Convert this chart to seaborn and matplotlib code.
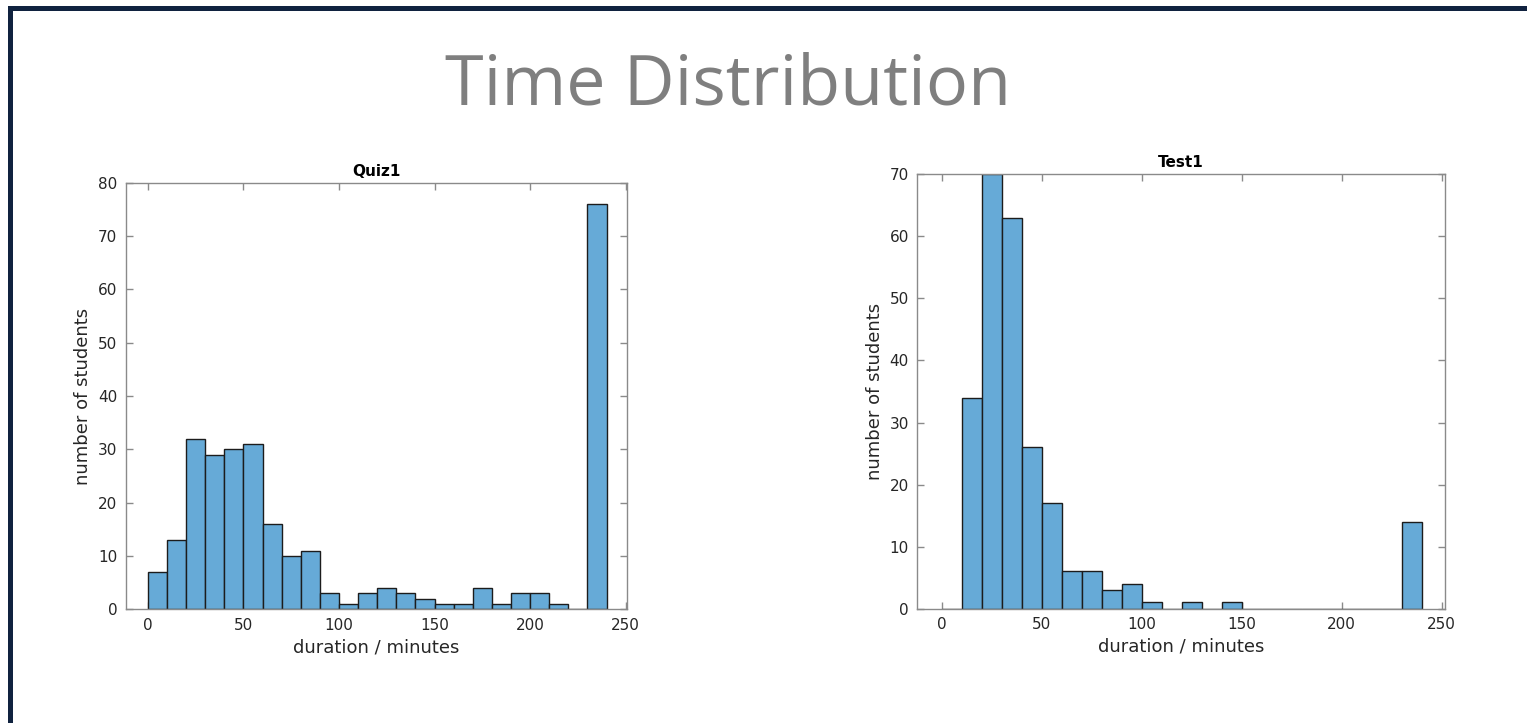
import numpy as np
import pandas as pd
import matplotlib
matplotlib.use("Agg")
import matplotlib.pyplot as plt
import seaborn as sns
from matplotlib.patches import Rectangle

# Histogram bins: 10-minute bins from 0 to 240 minutes
bin_edges = list(range(0, 250, 10))

# Counts per bin
quiz1_counts = [7, 13, 32, 29, 30, 31, 16, 10, 11, 3, 1, 3,
                4, 3, 2, 1, 1, 4, 1, 3, 3, 1, 0, 76]
test1_counts = [0, 34, 70, 63, 26, 17, 6, 6, 3, 4, 1, 0,
                1, 0, 1, 0, 0, 0, 0, 0, 0, 0, 0, 14]

panel_titles = ["Quiz1", "Test1"]
y_limits = [80, 70]
x_ticks = [0, 50, 100, 150, 200, 250]
main_title = "Time Distribution"
x_label = "duration / minutes"
y_label = "number of students"

sns.set_theme(style="white")
plt.rcParams["font.family"] = ["DejaVu Sans"]

BAR_COLOR = "#66AAD7"
EDGE_COLOR = "#1c1c1c"
SPINE_COLOR = "#8a8a8a"
TEXT_COLOR = "#262626"

fig = plt.figure(figsize=(15.27, 7.23), dpi=100)
fig.patch.set_facecolor("white")

axes_rects = [
    [0.0822, 0.1570, 0.3282, 0.5903],
    [0.6007, 0.1581, 0.3456, 0.6008],
]
x_limits = [(-11.7, 250.5), (-12.2, 251.6)]

centers = np.array(bin_edges[:-1]) + 5

for rect, counts, title, ymax, xlim in zip(axes_rects,
                                           [quiz1_counts, test1_counts],
                                           panel_titles, y_limits, x_limits):
    ax = fig.add_axes(rect)
    df = pd.DataFrame({"minutes": centers, "count": counts})
    sns.histplot(data=df, x="minutes", weights="count", bins=bin_edges,
                 color=BAR_COLOR, alpha=1.0, edgecolor=EDGE_COLOR,
                 linewidth=1.0, ax=ax)
    ax.set_xlim(*xlim)
    ax.set_ylim(0, ymax)
    ax.set_xticks(x_ticks)
    ax.set_yticks(np.arange(0, ymax + 1, 10))
    ax.tick_params(axis="both", which="both", direction="in", length=5,
                   width=1, color=SPINE_COLOR, labelsize=11,
                   labelcolor=TEXT_COLOR, top=True, right=True,
                   bottom=True, left=True, pad=6)
    for s in ax.spines.values():
        s.set_visible(True)
        s.set_color(SPINE_COLOR)
        s.set_linewidth(1.0)
    ax.set_xlabel(x_label, fontsize=13, color=TEXT_COLOR, labelpad=4)
    ax.set_ylabel(y_label, fontsize=13, color=TEXT_COLOR, labelpad=4)
    ax.set_title(title, fontsize=11, fontweight="bold", color="black", pad=5)

# Slide title
fig.text(0.4765, 0.880, main_title, ha="center", va="center",
         fontsize=50.5, color="#7f7f7f", family=["Open Sans", "DejaVu Sans"])

# Slide frame: top and left bars
frame_color = "#10223f"
fig.add_artist(Rectangle((8 / 1527, 1 - 11 / 723), 1.0, 5 / 723,
                         transform=fig.transFigure, color=frame_color,
                         linewidth=0))
fig.add_artist(Rectangle((8 / 1527, 0), 4.5 / 1527, 1 - 6 / 723,
                         transform=fig.transFigure, color=frame_color,
                         linewidth=0))

fig.savefig("out.png", dpi=100, facecolor="white")
